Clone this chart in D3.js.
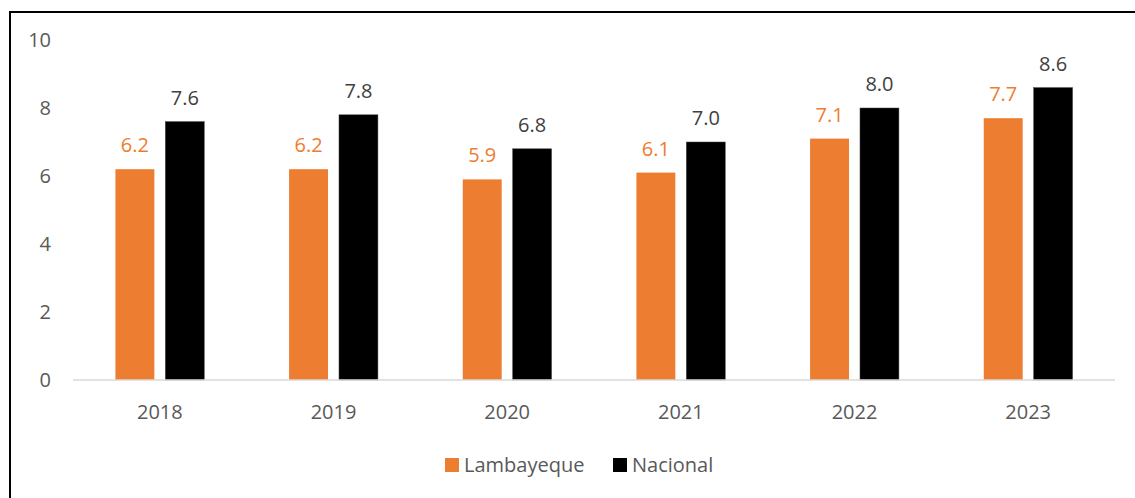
<!DOCTYPE html>
<html>
<head>
<meta charset="utf-8">
<script src="https://cdn.jsdelivr.net/npm/d3@7"></script>
<style>
  body { margin: 0; background: #fff; }
  svg { display: block; font-family: "Open Sans", "Noto Sans", sans-serif; }
</style>
</head>
<body>
<div id="chart"></div>
<script>
var years = ['2018', '2019', '2020', '2021', '2022', '2023'];
var lambayeque = [6.2, 6.2, 5.9, 6.1, 7.1, 7.7];
var nacional = [7.6, 7.8, 6.8, 7.0, 8.0, 8.6];
var seriesNames = ['Lambayeque', 'Nacional'];
var yTicks = [0, 2, 4, 6, 8, 10];

var width = 1135, height = 498;
var colors = { 'Lambayeque': '#ED7D31', 'Nacional': '#000000' };
var labelColors = { 'Lambayeque': '#ED7D31', 'Nacional': '#404040' };
var fontSize = '20px';

var svg = d3.select('#chart').append('svg')
    .attr('width', width)
    .attr('height', height);

// frame (only top and left edges are visible in the picture)
svg.append('rect')
    .attr('x', 10).attr('y', 12)
    .attr('width', width + 20).attr('height', height + 20)
    .attr('fill', 'none')
    .attr('stroke', '#000')
    .attr('stroke-width', 2);

var x = d3.scaleBand().domain(years).range([73, 1115]);
var y = d3.scaleLinear().domain([0, 10]).range([380, 40]);
var inner = d3.scaleBand().domain(seriesNames).range([0, x.bandwidth()])
    .paddingInner(0.22).paddingOuter(0.85);

var rows = years.map(function(yr, i) {
  return { year: yr, vals: [
    { name: 'Lambayeque', v: lambayeque[i] },
    { name: 'Nacional', v: nacional[i] }
  ] };
});

// y tick labels
svg.selectAll('.ytick')
    .data(yTicks)
    .enter().append('text')
    .attr('x', 51)
    .attr('y', function(d) { return y(d); })
    .attr('dy', '0.35em')
    .attr('text-anchor', 'end')
    .attr('fill', '#595959')
    .style('font-size', fontSize)
    .text(function(d) { return d; });

var groups = svg.selectAll('.grp')
    .data(rows)
    .enter().append('g')
    .attr('transform', function(d) { return 'translate(' + x(d.year) + ',0)'; });

groups.selectAll('rect')
    .data(function(d) { return d.vals; })
    .enter().append('rect')
    .attr('x', function(d) { return inner(d.name); })
    .attr('width', inner.bandwidth())
    .attr('y', function(d) { return y(d.v); })
    .attr('height', function(d) { return y(0) - y(d.v); })
    .attr('fill', function(d) { return colors[d.name]; })
    .attr('stroke', function(d) { return d.name == 'Nacional' ? '#444' : 'none'; })
    .attr('stroke-width', 0.5);

groups.selectAll('.val')
    .data(function(d) { return d.vals; })
    .enter().append('text')
    .attr('x', function(d) { return inner(d.name) + inner.bandwidth() / 2; })
    .attr('y', function(d) { return y(d.v) - 17; })
    .attr('text-anchor', 'middle')
    .attr('fill', function(d) { return labelColors[d.name]; })
    .style('font-size', fontSize)
    .text(function(d) { return d.v.toFixed(1); });

// baseline
svg.append('line')
    .attr('x1', 73).attr('x2', 1115)
    .attr('y1', y(0)).attr('y2', y(0))
    .attr('stroke', '#d9d9d9')
    .attr('stroke-width', 1.5);

// category labels
svg.selectAll('.xlab')
    .data(years)
    .enter().append('text')
    .attr('x', function(d) { return x(d) + x.bandwidth() / 2; })
    .attr('y', 412)
    .attr('dy', '0.35em')
    .attr('text-anchor', 'middle')
    .attr('fill', '#595959')
    .style('font-size', fontSize)
    .text(function(d) { return d; });

// legend
var legendX = [445, 613];
var legend = svg.selectAll('.leg')
    .data(seriesNames)
    .enter().append('g')
    .attr('transform', function(d, i) { return 'translate(' + legendX[i] + ',465)'; });
legend.append('rect')
    .attr('x', 0).attr('y', -7)
    .attr('width', 14).attr('height', 14)
    .attr('fill', function(d) { return colors[d]; });
legend.append('text')
    .attr('x', 19)
    .attr('dy', '0.35em')
    .attr('fill', '#595959')
    .style('font-size', fontSize)
    .text(function(d) { return d; });
</script>
</body>
</html>
